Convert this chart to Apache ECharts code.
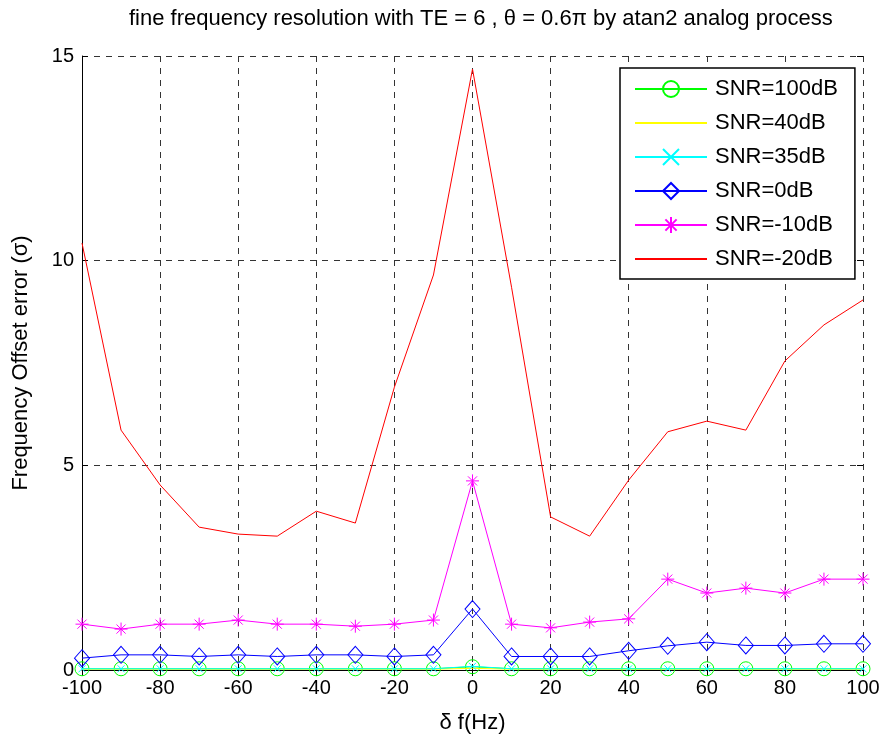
<!DOCTYPE html>
<html>
<head>
<meta charset="utf-8">
<script src="https://cdn.jsdelivr.net/npm/echarts@6/dist/echarts.min.js"></script>
<style>
html,body{margin:0;padding:0;background:#fff;}
#chart{width:886px;height:740px;}
</style>
</head>
<body>
<div id="chart"></div>
<script>
var xValues = [-100,-90,-80,-70,-60,-50,-40,-30,-20,-10,0,10,20,30,40,50,60,70,80,90,100];
var snr100 = [0.03,0.03,0.03,0.03,0.03,0.03,0.03,0.03,0.03,0.03,0.08,0.03,0.03,0.03,0.03,0.03,0.03,0.03,0.03,0.03,0.03];
var snr40  = [0.02,0.02,0.02,0.02,0.02,0.02,0.02,0.02,0.02,0.02,0.04,0.02,0.02,0.02,0.02,0.02,0.02,0.02,0.02,0.02,0.02];
var snr35  = [0.03,0.03,0.03,0.03,0.03,0.03,0.03,0.03,0.03,0.03,0.09,0.03,0.03,0.03,0.03,0.03,0.03,0.03,0.03,0.03,0.03];
var snr0   = [0.29,0.37,0.37,0.33,0.37,0.33,0.37,0.37,0.33,0.37,1.49,0.33,0.33,0.33,0.47,0.59,0.68,0.60,0.60,0.64,0.64];
var snrm10 = [1.12,1.00,1.12,1.12,1.22,1.12,1.12,1.07,1.12,1.22,4.62,1.12,1.03,1.17,1.25,2.22,1.88,2.00,1.88,2.22,2.22];
var snrm20 = [10.43,5.86,4.52,3.49,3.32,3.27,3.88,3.59,6.91,9.65,14.68,9.35,3.74,3.27,4.64,5.82,6.08,5.86,7.55,8.43,9.04];
var seriesNames = ['SNR=100dB','SNR=40dB','SNR=35dB','SNR=0dB','SNR=-10dB','SNR=-20dB'];
var xTicks = [-100,-80,-60,-40,-20,0,20,40,60,80,100];
var yTicks = [0,5,10,15];

function pairs(ys){ return xValues.map(function(x,i){ return [x, ys[i]]; }); }

var FONT = 'Liberation Sans, Arial, sans-serif';
var asterisk = 'path://M0,-10 L0,10 M-10,0 L10,0 M-7,-7 L7,7 M-7,7 L7,-7';
var xmark = 'path://M-10,-10 L10,10 M-10,10 L10,-10';

function mk(name, data, color, symbol, size, zlevel, hasMarker){
  return {
    name: name, type: 'line', data: pairs(data),
    symbol: symbol, symbolSize: size, showSymbol: hasMarker,
    lineStyle: {color: color, width: 1},
    itemStyle: {color: 'rgba(0,0,0,0)', borderColor: hasMarker ? color : 'rgba(0,0,0,0)', borderWidth: 1},
    emphasis: {disabled: true},
    animation: false,
    z: zlevel
  };
}

var chart = echarts.init(document.getElementById('chart'), null, {renderer: 'canvas'});
chart.setOption({
  backgroundColor: '#fff',
  animation: false,
  title: {
    text: 'fine frequency resolution with TE = 6 , \u03b8 = 0.6\u03c0 by atan2 analog process',
    left: 124, top: 3,
    textStyle: {fontFamily: FONT, fontSize: 22, fontWeight: 'normal', color: '#000'}
  },
  grid: {left: 82, right: 23, top: 56, bottom: 70, show: false},
  legend: {
    orient: 'vertical',
    left: 620, top: 68,
    padding: [10, 17, 9, 14],
    itemWidth: 72, itemHeight: 20, itemGap: 12,
    backgroundColor: '#fff',
    borderColor: '#000', borderWidth: 1.5,
    textStyle: {fontFamily: FONT, fontSize: 22, lineHeight: 22, color: '#000', padding: [0,0,0,3]},
    data: seriesNames
  },
  xAxis: [{
    type: 'value', min: -100, max: 100, interval: 20,
    name: '\u03b4 f(Hz)', nameLocation: 'middle', nameGap: 42,
    nameTextStyle: {fontFamily: FONT, fontSize: 22, color: '#000'},
    axisLine: {show: true, onZero: false, lineStyle: {color: '#000', width: 1}},
    axisTick: {show: true, inside: true, length: 6, lineStyle: {color: '#000'}},
    axisLabel: {fontFamily: FONT, fontSize: 20, color: '#000', margin: 8},
    splitLine: {show: true, lineStyle: {color: '#333', type: [6, 6], width: 1}}
  }, {
    type: 'value', min: -100, max: 100, interval: 20, position: 'top',
    axisLine: {show: false}, axisLabel: {show: false}, splitLine: {show: false},
    axisTick: {show: true, inside: true, length: 6, lineStyle: {color: '#000'}}
  }],
  yAxis: [{
    type: 'value', min: 0, max: 15, interval: 5,
    name: 'Frequency Offset error (\u03c3)', nameLocation: 'middle', nameGap: 50,
    nameTextStyle: {fontFamily: FONT, fontSize: 22, color: '#000'},
    axisLine: {show: true, onZero: false, lineStyle: {color: '#000', width: 1}},
    axisTick: {show: true, inside: true, length: 6, lineStyle: {color: '#000'}},
    axisLabel: {fontFamily: FONT, fontSize: 20, color: '#000', margin: 8},
    splitLine: {show: true, lineStyle: {color: '#333', type: [6, 6], width: 1}}
  }, {
    type: 'value', min: 0, max: 15, interval: 5, position: 'right',
    axisLine: {show: false, onZero: false}, axisLabel: {show: false}, splitLine: {show: false},
    axisTick: {show: true, inside: true, length: 6, lineStyle: {color: '#000'}}
  }],
  series: [
    mk(seriesNames[0], snr100, '#00ff00', 'circle', 14, 2, true),
    mk(seriesNames[1], snr40, '#ffff00', 'none', 1, 3, false),
    mk(seriesNames[2], snr35, '#00ffff', xmark, 7, 4, true),
    mk(seriesNames[3], snr0, '#0000ff', 'diamond', [15, 17], 5, true),
    mk(seriesNames[4], snrm10, '#ff00ff', asterisk, 13, 6, true),
    mk(seriesNames[5], snrm20, '#ff0000', 'none', 1, 7, false)
  ]
});
</script>
</body>
</html>
